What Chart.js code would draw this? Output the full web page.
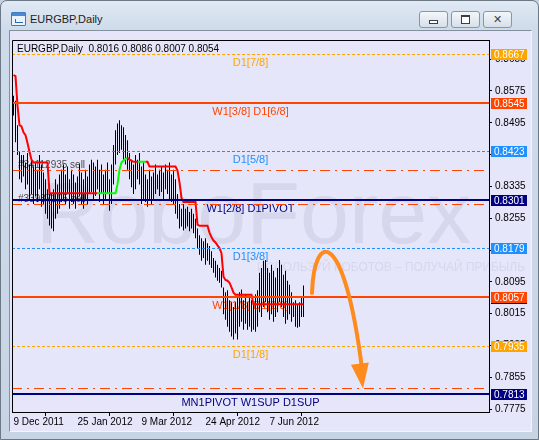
<!DOCTYPE html>
<html lang="en">
<head>
<meta charset="UTF-8">
<title>EURGBP,Daily</title>
<script src="https://cdn.jsdelivr.net/npm/chart.js"></script>
<style>
  body { margin: 0; width: 539px; height: 440px; overflow: hidden; background: #c3d1e1; font-family: 'Liberation Sans', Arial, sans-serif; }
  #win {
    position: absolute; left: 0; top: 0; width: 539px; height: 440px; box-sizing: border-box;
    border: 1px solid #6c7886; border-radius: 7px 7px 0 0;
    background: linear-gradient(to bottom, #e0e9f4 0px, #cedbea 28px, #c6d4e4 100%);
  }
  #icon { position: absolute; left: 10px; top: 11px; width: 13px; height: 12px; border: 1px solid #3b7bc6; background: #eaf2fc; border-radius: 1px; }
  #icon:before { content: ''; position: absolute; left: 0; top: 0; width: 13px; height: 3px; background: #4a8ad4; }
  #icon:after { content: ''; position: absolute; left: 3px; top: 6px; width: 7px; height: 3px; border-bottom: 1px solid #2b6bb6; border-left: 1px solid #2b6bb6; }
  #title { position: absolute; left: 29px; top: 12px; font-size: 11px; color: #1c1c1c; }
  .btn {
    position: absolute; top: 10px; width: 27px; height: 15px; border: 1px solid #8996a5; border-radius: 3px;
    background: linear-gradient(to bottom, #f4f7fa, #d6dfea);
  }
  .btn .min { position: absolute; left: 9px; top: 8px; width: 7px; height: 2px; border: 1px solid #3a3f46; background: #fff; }
  .btn .max { position: absolute; left: 9px; top: 3px; width: 7px; height: 6px; border: 1px solid #3a3f46; border-top-width: 2px; background: #fff; }
  .btn .cls { position: absolute; left: 0; top: 0; width: 27px; text-align: center; font: bold 11px 'DejaVu Sans', sans-serif; line-height: 15px; color: #3a3f46; }
  #panel {
    position: absolute; left: 8px; top: 29px; width: 521px; height: 400px;
    border-left: 1px solid #85909d; border-top: 1px solid #85909d;
    border-right: 1px solid #f2f5f9; border-bottom: 1px solid #f2f5f9;
    background: #E6E6FA;
  }
  #panel canvas { position: absolute; left: 0; top: 0; }
</style>
</head>
<body>
<div id="win">
  <div id="icon"></div>
  <div id="title">EURGBP,Daily</div>
  <div class="btn" style="left:418px"><div class="min"></div></div>
  <div class="btn" style="left:450px"><div class="max"></div></div>
  <div class="btn" style="left:482px"><div class="cls">✕</div></div>
  <div id="panel"><canvas id="chart" width="521" height="400"></canvas></div>
</div>

<script>
  // Daily bar highs / lows, one per bar starting 9 Dec 2011
  const highs = [
    0.8563, 0.8550, 0.8489, 0.8422, 0.8414, 0.8414, 0.8395, 0.8419, 0.8390, 0.8402,
    0.8385, 0.8397, 0.8377, 0.8414, 0.8390, 0.8370, 0.8353, 0.8328, 0.8340, 0.8316,
    0.8328, 0.8353, 0.8340, 0.8365, 0.8377, 0.8390, 0.8365, 0.8385, 0.8353, 0.8377,
    0.8365, 0.8345, 0.8360, 0.8390, 0.8370, 0.8353, 0.8377, 0.8360, 0.8390, 0.8402,
    0.8395, 0.8385, 0.8402, 0.8377, 0.8390, 0.8365, 0.8377, 0.8395, 0.8353, 0.8390,
    0.8439, 0.8476, 0.8493, 0.8501, 0.8489, 0.8484, 0.8464, 0.8451, 0.8419, 0.8402,
    0.8390, 0.8414, 0.8402, 0.8419, 0.8385, 0.8395, 0.8365, 0.8353, 0.8377, 0.8360,
    0.8370, 0.8390, 0.8365, 0.8377, 0.8385, 0.8370, 0.8390, 0.8377, 0.8395, 0.8365,
    0.8377, 0.8353, 0.8316, 0.8291, 0.8279, 0.8291, 0.8279, 0.8284, 0.8271, 0.8279,
    0.8266, 0.8254, 0.8229, 0.8212, 0.8205, 0.8197, 0.8205, 0.8192, 0.8185, 0.8172,
    0.8155, 0.8148, 0.8138, 0.8130, 0.8123, 0.8081, 0.8069, 0.8074, 0.8049, 0.8044,
    0.8032, 0.8044, 0.8056, 0.8069, 0.8076, 0.8049, 0.8064, 0.8044, 0.8056, 0.8049,
    0.8044, 0.8064, 0.8074, 0.8118, 0.8130, 0.8148, 0.8150, 0.8130, 0.8118, 0.8138,
    0.8123, 0.8106, 0.8130, 0.8150, 0.8138, 0.8113, 0.8123, 0.8098, 0.8088, 0.8069,
    0.8044, 0.8049, 0.8039, 0.8044, 0.8056, 0.8086
  ];
  const lows = [
    0.8513, 0.8446, 0.8414, 0.8353, 0.8345, 0.8360, 0.8328, 0.8340, 0.8303, 0.8316,
    0.8291, 0.8311, 0.8296, 0.8328, 0.8284, 0.8291, 0.8266, 0.8254, 0.8237, 0.8229,
    0.8222, 0.8254, 0.8266, 0.8279, 0.8296, 0.8303, 0.8291, 0.8316, 0.8279, 0.8296,
    0.8291, 0.8279, 0.8303, 0.8311, 0.8291, 0.8279, 0.8303, 0.8291, 0.8316, 0.8321,
    0.8303, 0.8311, 0.8328, 0.8296, 0.8316, 0.8291, 0.8303, 0.8316, 0.8274, 0.8291,
    0.8340, 0.8390, 0.8414, 0.8419, 0.8427, 0.8402, 0.8390, 0.8377, 0.8353, 0.8333,
    0.8316, 0.8328, 0.8353, 0.8340, 0.8291, 0.8303, 0.8296, 0.8284, 0.8303, 0.8291,
    0.8303, 0.8316, 0.8328, 0.8311, 0.8321, 0.8303, 0.8328, 0.8316, 0.8303, 0.8296,
    0.8291, 0.8266, 0.8254, 0.8229, 0.8234, 0.8224, 0.8229, 0.8234, 0.8222, 0.8229,
    0.8217, 0.8205, 0.8180, 0.8163, 0.8148, 0.8155, 0.8138, 0.8148, 0.8138, 0.8130,
    0.8118, 0.8106, 0.8098, 0.8093, 0.8081, 0.8014, 0.8000, 0.7982, 0.7970, 0.7958,
    0.7950, 0.7965, 0.7950, 0.7982, 0.7995, 0.7975, 0.7990, 0.7975, 0.7982, 0.7970,
    0.7975, 0.7970, 0.7982, 0.8019, 0.8007, 0.8032, 0.8044, 0.8019, 0.8000, 0.8014,
    0.7995, 0.8007, 0.8019, 0.8044, 0.8032, 0.8007, 0.7990, 0.8000, 0.8014, 0.7995,
    0.8007, 0.7982, 0.7980, 0.7982, 0.8007, 0.8007
  ];

  // trailing stop indicator (red = down, green = up)
  const stopLine = [
    0.8615, 0.8612, 0.8538, 0.8489, 0.8486, 0.8471, 0.8464, 0.8444, 0.8422, 0.8402,
    0.8395, 0.8395, 0.8395, 0.8395, 0.8395, 0.8395, 0.8395, 0.8395,
    0.8318, 0.8318, 0.8318, 0.8318, 0.8318, 0.8318, 0.8318, 0.8318, 0.8318, 0.8318,
    0.8318, 0.8318, 0.8318, 0.8318, 0.8318, 0.8318, 0.8318, 0.8318, 0.8318, 0.8318,
    0.8318, 0.8318, 0.8318, 0.8318, 0.8318, 0.8318, 0.8318, 0.8318, 0.8318, 0.8318,
    0.8318, 0.8318, 0.8318, 0.8318,
    0.8340, 0.8377, 0.8395, 0.8400, 0.8404, 0.8407, 0.8402, 0.8400, 0.8397, 0.8397,
    0.8397, 0.8397, 0.8397, 0.8397, 0.8397, 0.8397,
    0.8385, 0.8385, 0.8385, 0.8385, 0.8385, 0.8385, 0.8385, 0.8385, 0.8385, 0.8385,
    0.8385, 0.8385, 0.8385, 0.8385,
    0.8375, 0.8345, 0.8306,
    0.8296, 0.8296, 0.8296, 0.8296, 0.8296, 0.8296, 0.8296,
    0.8239, 0.8236, 0.8236, 0.8236, 0.8236, 0.8236,
    0.8219, 0.8207, 0.8199, 0.8194, 0.8187, 0.8180, 0.8167,
    0.8108, 0.8100, 0.8098, 0.8093, 0.8081, 0.8068,
    0.8063, 0.8063, 0.8063, 0.8063, 0.8063, 0.8063, 0.8063, 0.8063, 0.8063,
    0.8039, 0.8039, 0.8039, 0.8039, 0.8039, 0.8039, 0.8039, 0.8039, 0.8039, 0.8039,
    0.8039, 0.8039, 0.8039, 0.8039, 0.8039, 0.8039, 0.8039, 0.8039, 0.8039, 0.8039,
    0.8039, 0.8039, 0.8039, 0.8039, 0.8039, 0.8039
  ];
  const upRanges = [[42, 56], [62, 65]];

  const dateIdx = [0, 32, 64, 96, 128];
  const dateLabels = ['9 Dec 2011', '25 Jan 2012', '9 Mar 2012', '24 Apr 2012', '7 Jun 2012'];
  const priceTicks = [0.7775, 0.7855, 0.7935, 0.8015, 0.8095, 0.8175, 0.8255, 0.8335, 0.8415, 0.8495, 0.8575, 0.8655];

  // Murrey math levels
  const levelValues = [0.8667, 0.8545, 0.8423, 0.8301, 0.8179, 0.8057, 0.7935, 0.7813];
  const levelNames = ['D1[7/8]', 'W1[3/8] D1[6/8]', 'D1[5/8]', 'W1[2/8] D1PIVOT', 'D1[3/8]', 'W1[1/8] D1[2/8]', 'D1[1/8]', 'MN1PIVOT W1SUP D1SUP'];
  const orderValues = [0.8377, 0.8292, 0.7829];
  const orderNames = ['#34112935 sell', '#33987105 sell', ''];

  const symbol = 'EURGBP,Daily';
  const ohlc = [0.8016, 0.8086, 0.8007, 0.8054];
  const bid = 0.8054;

  // forecast arrow: bezier start, ctrl1, ctrl2, end, tip (bar index, price)
  const arrowPts = [[149.25, 0.8067], [150.25, 0.8223], [165.25, 0.8235], [174.25, 0.7877], [174.75, 0.7827]];

  const watermark = ['RoboForex', 'ИСПОЛЬЗУЙ РОБОТОВ – ПОЛУЧАЙ ПРИБЫЛЬ'];

  // styles
  const levelStyles = [
    { color: '#FFA500', width: 1, dash: [3, 2] },
    { color: '#FF4500', width: 2, dash: [] },
    { color: '#1E90FF', width: 1, dash: [3, 2] },
    { color: '#000080', width: 2, dash: [] },
    { color: '#1E90FF', width: 1, dash: [3, 2] },
    { color: '#FF4500', width: 2, dash: [] },
    { color: '#FFA500', width: 1, dash: [3, 2] },
    { color: '#000080', width: 2, dash: [] }
  ];
  const FONT = "'Liberation Sans', Arial, sans-serif";

  function isUp(i) {
    return upRanges.some(r => i >= r[0] && i <= r[1]);
  }

  const mt4 = {
    id: 'mt4',
    beforeDraw(chart) {
      const { ctx, chartArea: a } = chart;
      ctx.save();
      ctx.fillStyle = '#D6D7EC';
      ctx.font = '88px ' + FONT;
      ctx.textAlign = 'center';
      ctx.textBaseline = 'alphabetic';
      ctx.fillText(watermark[0], (a.left + a.right) / 2 + 3, a.top + 203);
      ctx.font = '13px ' + FONT;
      ctx.textAlign = 'left';
      ctx.fillText(watermark[1], a.left + 245, a.top + 231, 268);
      ctx.restore();
    },
    beforeDatasetsDraw(chart) {
      const { ctx, chartArea: a, scales: { y } } = chart;
      ctx.save();
      ctx.font = '11px ' + FONT;
      ctx.textAlign = 'center';
      ctx.textBaseline = 'top';
      levelValues.forEach((v, k) => {
        ctx.fillStyle = levelStyles[k].color;
        ctx.fillText(levelNames[k], (a.left + a.right) / 2, Math.round(y.getPixelForValue(v)) + 3);
      });
      ctx.font = '10px ' + FONT;
      ctx.textAlign = 'left';
      ctx.textBaseline = 'bottom';
      ctx.fillStyle = '#4a4a4a';
      orderValues.forEach((v, k) => {
        ctx.fillText(orderNames[k], a.left + 6, Math.round(y.getPixelForValue(v)));
      });
      ctx.restore();
    },
    afterDatasetsDraw(chart) {
      const { ctx, chartArea: a, scales: { x, y } } = chart;
      ctx.save();
      // order lines
      ctx.strokeStyle = '#FF4500';
      ctx.lineWidth = 1;
      ctx.setLineDash([10, 5, 2, 5]);
      orderValues.forEach(v => {
        const py = Math.round(y.getPixelForValue(v)) + 0.5;
        ctx.beginPath(); ctx.moveTo(a.left, py); ctx.lineTo(a.right, py); ctx.stroke();
      });
      // level lines
      levelValues.forEach((v, k) => {
        const s = levelStyles[k];
        const py = s.width === 2 ? Math.round(y.getPixelForValue(v)) : Math.round(y.getPixelForValue(v)) + 0.5;
        ctx.strokeStyle = s.color;
        ctx.lineWidth = s.width;
        ctx.setLineDash(s.dash);
        ctx.beginPath(); ctx.moveTo(a.left, py); ctx.lineTo(a.right, py); ctx.stroke();
      });
      ctx.setLineDash([]);

      // forecast arrow
      const p = arrowPts.map(q => [x.getPixelForValue(q[0]), y.getPixelForValue(q[1])]);
      ctx.strokeStyle = '#FF8A1E';
      ctx.fillStyle = '#FF8A1E';
      ctx.lineWidth = 4;
      ctx.lineCap = 'round';
      ctx.beginPath();
      ctx.moveTo(p[0][0], p[0][1]);
      ctx.bezierCurveTo(p[1][0], p[1][1], p[2][0], p[2][1], p[3][0], p[3][1]);
      ctx.stroke();
      const tip = p[4];
      const dx = p[3][0] - p[2][0], dy = p[3][1] - p[2][1];
      const len = Math.hypot(dx, dy), ux = dx / len, uy = dy / len;
      const bx = tip[0] - ux * 25, by = tip[1] - uy * 25;
      ctx.beginPath();
      ctx.moveTo(tip[0], tip[1]);
      ctx.lineTo(bx + uy * 9, by - ux * 9);
      ctx.lineTo(bx - uy * 9, by + ux * 9);
      ctx.closePath();
      ctx.fill();

      // frame (left / top), axes draw the other two
      ctx.strokeStyle = '#000';
      ctx.lineWidth = 1;
      ctx.beginPath();
      ctx.moveTo(a.left + 0.5, a.bottom); ctx.lineTo(a.left + 0.5, a.top + 0.5); ctx.lineTo(a.right, a.top + 0.5);
      ctx.stroke();

      // header
      ctx.font = '10px ' + FONT;
      ctx.fillStyle = '#000';
      ctx.textAlign = 'left';
      ctx.textBaseline = 'middle';
      ctx.fillText(symbol + '  ' + ohlc.map(v => v.toFixed(4)).join(' '), a.left + 5, a.top + 9);

      // price boxes on the axis
      const box = (v, bg) => {
        const py = Math.round(y.getPixelForValue(v));
        ctx.fillStyle = bg;
        ctx.fillRect(a.right + 2, py - 5, 36, 11);
        ctx.fillStyle = '#fff';
        ctx.fillText(v.toFixed(4), a.right + 5, py + 1);
      };
      box(bid, '#000');
      levelValues.forEach((v, k) => box(v, levelStyles[k].color));
      ctx.restore();
    }
  };

  new Chart(document.getElementById('chart'), {
    type: 'bar',
    data: {
      datasets: [
        {
          type: 'line',
          data: stopLine.map((v, i) => ({ x: i, y: v })),
          borderColor: '#FF0000',
          borderWidth: 2,
          pointRadius: 0,
          tension: 0,
          segment: { borderColor: c => isUp(c.p0DataIndex) ? '#00FF00' : '#FF0000' },
          order: 0
        },
        {
          type: 'bar',
          data: highs.map((h, i) => ({ x: i, y: [lows[i], h] })),
          backgroundColor: '#000',
          barThickness: 1,
          borderWidth: 0,
          inflateAmount: 0,
          grouped: false,
          order: 1
        }
      ]
    },
    options: {
      responsive: false,
      devicePixelRatio: 1,
      animation: false,
      events: [],
      layout: { padding: { left: 2, top: 3, right: 0, bottom: 0 } },
      plugins: { legend: { display: false }, tooltip: { enabled: false } },
      scales: {
        x: {
          type: 'linear',
          offset: false,
          min: -0.75,
          max: 237.75,
          afterBuildTicks: s => { s.ticks = dateIdx.map(v => ({ value: v })); },
          afterFit: s => { s.height = 19; },
          grid: { drawOnChartArea: false, drawTicks: true, tickLength: 4, color: '#000' },
          border: { display: true, color: '#000' },
          ticks: {
            autoSkip: false, maxRotation: 0, align: 'start', padding: 0,
            color: '#000', font: { family: FONT, size: 10 },
            callback: (v, i) => dateLabels[i]
          }
        },
        y: {
          type: 'linear',
          position: 'right',
          min: 0.7768,
          max: 0.8703,
          afterBuildTicks: s => { s.ticks = priceTicks.map(v => ({ value: v })); },
          afterFit: s => { s.width = 42; },
          grid: { drawOnChartArea: false, drawTicks: true, tickLength: 3, color: '#000' },
          border: { display: true, color: '#000' },
          ticks: {
            padding: 3, color: '#000', font: { family: FONT, size: 10 },
            callback: v => v.toFixed(4)
          }
        }
      }
    },
    plugins: [mt4]
  });
</script>
</body>
</html>
